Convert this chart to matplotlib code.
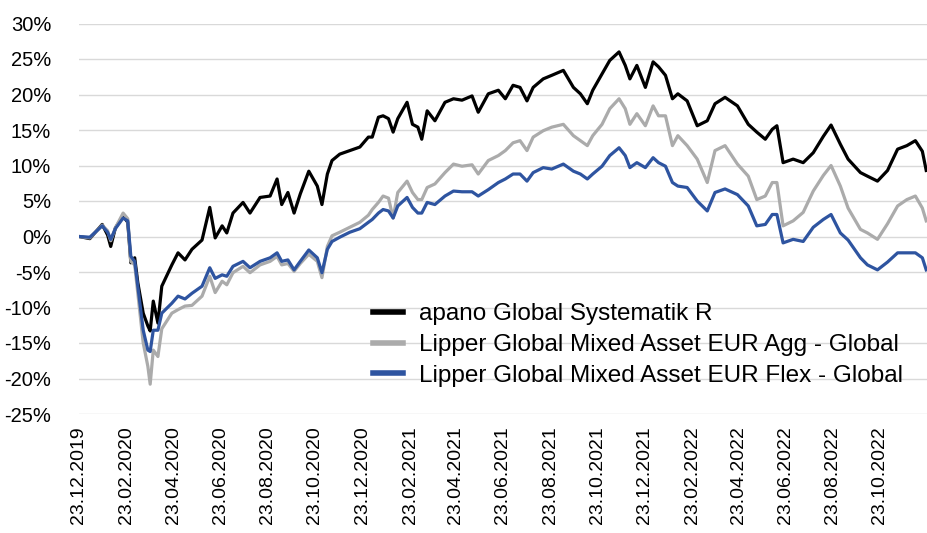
import matplotlib
matplotlib.use("Agg")
import matplotlib.pyplot as plt
import matplotlib.dates as mdates
import matplotlib.ticker as mticker
import pandas as pd

plt.rcParams['font.family'] = ['Liberation Sans', 'DejaVu Sans']

dates = [
    "2019-12-23", "2020-01-06", "2020-01-22", "2020-01-29", "2020-02-02", "2020-02-08",
    "2020-02-18", "2020-02-24", "2020-02-28", "2020-03-04", "2020-03-08", "2020-03-15",
    "2020-03-21", "2020-03-24", "2020-03-28", "2020-04-03", "2020-04-08", "2020-04-21",
    "2020-04-29", "2020-05-08", "2020-05-17", "2020-05-30", "2020-06-09", "2020-06-16",
    "2020-06-25", "2020-07-01", "2020-07-09", "2020-07-22", "2020-07-31", "2020-08-13",
    "2020-08-26", "2020-09-04", "2020-09-10", "2020-09-18", "2020-09-26", "2020-10-04",
    "2020-10-15", "2020-10-26", "2020-11-01", "2020-11-08", "2020-11-14", "2020-11-24",
    "2020-12-07", "2020-12-20", "2020-12-31", "2021-01-05", "2021-01-13", "2021-01-19",
    "2021-01-26", "2021-02-01", "2021-02-07", "2021-02-19", "2021-02-26", "2021-03-05",
    "2021-03-10", "2021-03-17", "2021-03-27", "2021-04-09", "2021-04-20", "2021-05-01",
    "2021-05-14", "2021-05-22", "2021-06-04", "2021-06-17", "2021-06-26", "2021-07-06",
    "2021-07-15", "2021-07-24", "2021-08-01", "2021-08-14", "2021-08-25", "2021-09-09",
    "2021-09-22", "2021-10-01", "2021-10-10", "2021-10-17", "2021-10-29", "2021-11-08",
    "2021-11-20", "2021-11-28", "2021-12-04", "2021-12-13", "2021-12-24", "2022-01-03",
    "2022-01-10", "2022-01-19", "2022-01-28", "2022-02-04", "2022-02-16", "2022-03-01",
    "2022-03-14", "2022-03-24", "2022-04-06", "2022-04-22", "2022-05-06", "2022-05-17",
    "2022-05-28", "2022-06-06", "2022-06-12", "2022-06-20", "2022-07-03", "2022-07-16",
    "2022-07-29", "2022-08-11", "2022-08-21", "2022-09-02", "2022-09-12", "2022-09-28",
    "2022-10-07", "2022-10-20", "2022-11-02", "2022-11-15", "2022-11-27", "2022-12-08",
    "2022-12-17", "2022-12-22",
]

apano = [
    0.0, -0.3, 1.7, 0.2, -1.4, 1.2,
    2.9, 2.0, -3.7, -3.0, -6.5, -10.8,
    -12.6, -13.3, -9.1, -12.2, -7.0, -4.0,
    -2.3, -3.3, -1.8, -0.5, 4.1, -0.2,
    1.5, 0.5, 3.3, 4.8, 3.3, 5.5,
    5.7, 8.1, 4.5, 6.2, 3.3, 6.0,
    9.2, 7.1, 4.5, 8.8, 10.7, 11.6,
    12.1, 12.6, 14.0, 14.0, 16.8, 17.0,
    16.6, 14.7, 16.6, 18.9, 15.8, 15.4,
    13.7, 17.7, 16.3, 18.9, 19.4, 19.2,
    19.8, 17.5, 20.1, 20.6, 19.4, 21.3,
    21.0, 19.1, 21.0, 22.2, 22.7, 23.4,
    21.0, 20.1, 18.7, 20.6, 22.9, 24.8,
    26.0, 24.1, 22.2, 24.1, 21.0, 24.6,
    23.9, 22.7, 19.4, 20.1, 19.1, 15.6,
    16.3, 18.7, 19.6, 18.4, 15.8, 14.7,
    13.7, 15.1, 15.6, 10.4, 10.9, 10.4,
    11.8, 14.1, 15.7, 13.0, 10.9, 9.0,
    8.5, 7.8, 9.3, 12.3, 12.8, 13.5,
    12.0, 9.3,
]

lipper_agg = [
    0.0, -0.2, 1.6, 0.8, -0.6, 1.2,
    3.3, 2.5, -3.5, -4.0, -8.0, -15.0,
    -18.3, -20.8, -16.0, -16.9, -13.0, -10.8,
    -10.3, -9.8, -9.7, -8.4, -5.6, -7.9,
    -6.3, -6.8, -5.1, -4.2, -5.1, -4.0,
    -3.5, -2.8, -4.0, -3.8, -4.9, -3.8,
    -2.5, -3.5, -5.8, -1.4, 0.1, 0.6,
    1.3, 2.0, 3.0, 3.8, 4.8, 5.7,
    5.4, 2.6, 6.2, 7.8, 6.2, 5.2,
    5.2, 6.9, 7.4, 9.0, 10.2, 9.9,
    10.1, 8.8, 10.7, 11.4, 12.1, 13.2,
    13.5, 12.1, 14.0, 14.9, 15.4, 15.8,
    14.2, 13.5, 12.8, 14.2, 15.8, 18.0,
    19.4, 18.0, 15.8, 17.3, 15.6, 18.4,
    17.0, 17.0, 12.8, 14.2, 12.8, 10.9,
    7.6, 12.1, 12.8, 10.2, 8.5, 5.2,
    5.7, 7.6, 7.6, 1.5, 2.2, 3.4,
    6.4, 8.6, 10.0, 7.1, 4.0, 1.0,
    0.5, -0.4, 1.8, 4.3, 5.2, 5.7,
    4.0, 2.2,
]

lipper_flex = [
    0.0, -0.1, 1.5, 0.6, -0.4, 1.1,
    2.6, 2.2, -2.8, -3.5, -7.0, -13.2,
    -16.0, -16.2, -13.2, -13.2, -10.8, -9.4,
    -8.4, -8.8, -8.0, -7.0, -4.4, -5.9,
    -5.4, -5.6, -4.2, -3.5, -4.4, -3.5,
    -3.0, -2.3, -3.5, -3.3, -4.7, -3.5,
    -1.9, -3.0, -5.1, -1.8, -0.7, -0.1,
    0.6, 1.1, 2.0, 2.4, 3.3, 3.8,
    3.6, 2.6, 4.3, 5.5, 4.1, 3.3,
    3.3, 4.8, 4.5, 5.7, 6.4, 6.3,
    6.3, 5.7, 6.6, 7.6, 8.1, 8.8,
    8.8, 7.8, 9.0, 9.7, 9.5, 10.2,
    9.2, 8.8, 8.1, 8.8, 9.9, 11.4,
    12.5, 11.4, 9.7, 10.4, 9.7, 11.1,
    10.4, 9.9, 7.6, 7.1, 6.9, 5.0,
    3.6, 6.2, 6.7, 5.9, 4.3, 1.5,
    1.7, 3.1, 3.1, -0.9, -0.4, -0.7,
    1.3, 2.4, 3.1, 0.5, -0.5, -3.0,
    -4.0, -4.7, -3.6, -2.3, -2.3, -2.3,
    -3.0, -4.7,
]

labels = [
    "apano Global Systematik R",
    "Lipper Global Mixed Asset EUR Agg - Global",
    "Lipper Global Mixed Asset EUR Flex - Global",
]
colors = ["#000000", "#ababab", "#2e54a0"]

tick_dates = [
    "2019-12-23", "2020-02-23", "2020-04-23", "2020-06-23", "2020-08-23", "2020-10-23",
    "2020-12-23", "2021-02-23", "2021-04-23", "2021-06-23", "2021-08-23", "2021-10-23",
    "2021-12-23", "2022-02-23", "2022-04-23", "2022-06-23", "2022-08-23", "2022-10-23",
]
y_ticks = list(range(-25, 31, 5))

x = pd.to_datetime(dates)
fig = plt.figure(figsize=(9.27, 5.33), dpi=100)
ax = fig.add_axes([79 / 927, 1 - 414 / 533, 1 - 79 / 927, (414 - 23.5) / 533])

for vals, lab, col in zip([apano, lipper_agg, lipper_flex], labels, colors):
    ax.plot(x, vals, color=col, lw=2.3, label=lab, solid_joinstyle='round')

ax.set_ylim(-25, 30)
ax.set_yticks(y_ticks)
ax.yaxis.set_major_formatter(mticker.FuncFormatter(lambda v, p: f"{v:.0f}%".replace("\u2212", "-")))
ax.set_xlim(pd.Timestamp("2019-12-23"), pd.Timestamp("2022-12-23"))
ax.set_xticks(pd.to_datetime(tick_dates))
ax.xaxis.set_major_formatter(mdates.DateFormatter("%d.%m.%Y"))
ax.tick_params(axis='x', rotation=90, length=0, pad=9, labelsize=14, colors='#000000')
ax.tick_params(axis='y', length=0, pad=20, labelsize=14.5, colors='#000000')
ax.grid(axis='y', color='#d9d9d9', lw=1)
ax.set_axisbelow(True)
for s in ax.spines.values():
    s.set_visible(False)

leg = ax.legend(loc='center left', bbox_to_anchor=(373 / 927, 1 - 345 / 533),
                bbox_transform=fig.transFigure, frameon=False, fontsize=17.5,
                handlelength=1.22, handletextpad=0.68, labelspacing=0.36,
                borderpad=0, borderaxespad=0)
for h in leg.get_lines():
    h.set_linewidth(4)

fig.savefig("out.png", dpi=100)
